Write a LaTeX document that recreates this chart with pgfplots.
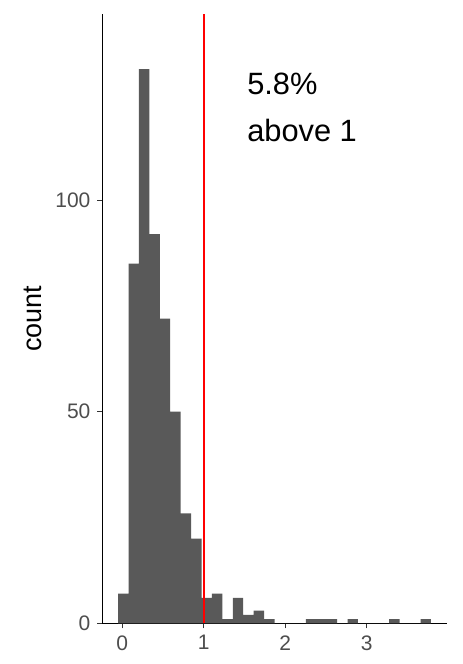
\documentclass[border=0pt]{standalone}
\usepackage{fontspec}
\setmainfont{Liberation Sans}
\usepackage{pgfplots}
\pgfplotsset{compat=1.18}
\definecolor{barfill}{HTML}{595959}
\definecolor{ticklab}{HTML}{4D4D4D}
\definecolor{tickcol}{HTML}{333333}
\begin{document}
\begin{tikzpicture}
\useasboundingbox (-51.2pt,-20.35pt) rectangle (179.85pt,311.5pt);
\begin{axis}[
  at={(0,0)}, anchor=south west,
  scale only axis, width=172pt, height=304.5pt,
  xmin=-0.241, xmax=3.979, ymin=0, ymax=144,
  axis x line=bottom, axis y line=left,
  axis line style={-, black, line width=0.6pt},
  xtick={0,1,2,3}, ytick={0,50,100},
  tick align=outside, major tick length=2.5pt,
  tick style={tickcol, line width=0.5pt},
  /pgf/number format/assume math mode=true,
  tick label style={font=\fontsize{10.5}{12}\selectfont, text=ticklab},
  ylabel={count},
  ylabel style={font=\fontsize{13.5}{15}\selectfont, at={(axis description cs:-0.2017,0.5)}, anchor=center},
  clip=false,
]
\addplot[ybar interval, fill=barfill, draw=none] coordinates {
(-0.049,7) (0.0789,85) (0.2067,131) (0.3346,92) (0.4625,72) (0.5903,50)
(0.7182,26) (0.8461,20) (0.9739,6) (1.1018,7) (1.2297,1) (1.3575,6)
(1.4854,2) (1.6133,3) (1.7411,1) (1.8690,0) (1.9969,0) (2.1247,0)
(2.2526,1) (2.3805,1) (2.5083,1) (2.6362,0) (2.7641,1) (2.8919,0)
(3.0198,0) (3.1477,0) (3.2755,1) (3.4034,0) (3.5313,0) (3.6591,1)
(3.7870,1)
};
\addplot[red, line width=1pt] coordinates {(1,0) (1,144)};
\node[anchor=base west, inner sep=0pt, font=\fontsize{15.4}{18}\selectfont] at (axis cs:1.53,124.9) {5.8\%};
\node[anchor=base west, inner sep=0pt, font=\fontsize{15.4}{18}\selectfont] at (axis cs:1.53,113.85) {above 1};
\end{axis}
\end{tikzpicture}
\end{document}
